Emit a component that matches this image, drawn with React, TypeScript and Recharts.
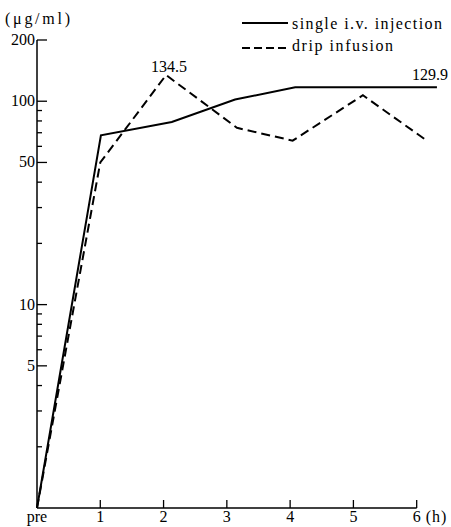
import { LineChart, Line, XAxis, YAxis, ReferenceLine, LabelList } from 'recharts';

// hours after dosing (0 = pre)
const ivTimes = [0, 1.01, 2.13, 3.13, 4.08, 6.32];
const ivLevels = [1, 68, 79, 102, 117, 117];
const dripTimes = [0, 1.0, 2.04, 3.16, 4.04, 5.15, 6.16];
const dripLevels = [1, 50, 134.5, 74, 64, 107, 64];

const hourTicks = [0, 1, 2, 3, 4, 5, 6];
const hourLabels = ['pre', '1', '2', '3', '4', '5', '6'];
const levelTicks = [2, 3, 4, 5, 6, 7, 8, 9, 10, 20, 30, 40, 50, 60, 70, 80, 90, 100, 200];
const levelLabels = [5, 10, 50, 100, 200];

const seriesNames = ['single i.v. injection', 'drip infusion'];
const notes = [
  { series: 1, index: 2, text: '134.5' },
  { series: 0, index: 5, text: '129.9' },
];

const ivData = ivTimes.map((t, i) => ({ t, v: ivLevels[i] }));
const dripData = dripTimes.map((t, i) => ({ t, v: dripLevels[i] }));

const FONT = '"Liberation Serif", "DejaVu Serif", serif';
const DASH = '9 5';

const XTick = ({ x, y, payload }: any) => {
  const i = hourTicks.indexOf(payload.value);
  return (
    <g>
      {i > 0 && <line x1={x} x2={x} y1={y - 8} y2={y} stroke="#000" strokeWidth={1.3} />}
      <text x={x} y={y + 14} textAnchor="middle" fontSize={16} fontFamily={FONT} fill="#000">
        {hourLabels[i]}
      </text>
      {i === hourTicks.length - 1 && (
        <text x={x + 9} y={y + 14} fontSize={16} fontFamily={FONT} fill="#000" letterSpacing={1}>
          (h)
        </text>
      )}
    </g>
  );
};

const YTick = ({ x, y, payload }: any) => {
  const major = levelLabels.includes(payload.value);
  return (
    <g>
      <line x1={x} x2={x + (major ? 10 : 5)} y1={y} y2={y} stroke="#000" strokeWidth={1.3} />
      {major && (
        <text x={x - 2} y={y + 5} textAnchor="end" fontSize={16} fontFamily={FONT} fill="#000">
          {payload.value}
        </text>
      )}
    </g>
  );
};

const noteLabel = (series: number) => (props: any) => {
  const note = notes.find((n) => n.series === series && n.index === props.index);
  if (!note) return null;
  const last = series === 0;
  return (
    <text
      x={last ? props.x + 11 : props.x + 3}
      y={last ? props.y - 7 : props.y - 3}
      textAnchor={last ? 'end' : 'middle'}
      fontSize={16}
      fontFamily={FONT}
      fill="#000"
    >
      {note.text}
    </text>
  );
};

export default function App() {
  return (
    <div style={{ position: 'absolute', left: 0, top: 0, width: 451, height: 527, background: '#fff' }}>
      <LineChart width={451} height={527} margin={{ top: 40, right: 9, left: 7, bottom: 0 }}>
        <XAxis
          type="number"
          dataKey="t"
          domain={[0, 6.4]}
          ticks={hourTicks}
          tick={<XTick />}
          tickLine={false}
          tickSize={0}
          tickMargin={0}
          axisLine={false}
          height={19}
          interval={0}
        />
        <YAxis
          type="number"
          dataKey="v"
          scale="log"
          domain={[1, 200]}
          allowDataOverflow
          ticks={levelTicks}
          tick={<YTick />}
          tickLine={false}
          tickSize={0}
          tickMargin={0}
          interval={0}
          width={30}
          axisLine={{ stroke: '#000', strokeWidth: 1.5 }}
        />
        <ReferenceLine
          segment={[{ x: 0, y: 1 }, { x: 6, y: 1 }]}
          stroke="#000"
          strokeWidth={1.5}
          ifOverflow="visible"
        />
        <Line
          data={ivData}
          dataKey="v"
          name={seriesNames[0]}
          stroke="#000"
          strokeWidth={2}
          dot={false}
          isAnimationActive={false}
        >
          <LabelList dataKey="v" content={noteLabel(0)} />
        </Line>
        <Line
          data={dripData}
          dataKey="v"
          name={seriesNames[1]}
          stroke="#000"
          strokeWidth={2}
          strokeDasharray={DASH}
          dot={false}
          isAnimationActive={false}
        >
          <LabelList dataKey="v" content={noteLabel(1)} />
        </Line>
      </LineChart>
      <svg
        width={451}
        height={527}
        style={{ position: 'absolute', left: 0, top: 0, pointerEvents: 'none' }}
      >
        <text x={5} y={24} fontSize={16} fontFamily={FONT} fill="#000" textLength={65} lengthAdjust="spacing">
          (μg/ml)
        </text>
        <line x1={242} x2={288} y1={23} y2={23} stroke="#000" strokeWidth={2} />
        <text x={292} y={29} fontSize={16} fontFamily={FONT} fill="#000" textLength={150} lengthAdjust="spacing">
          {seriesNames[0]}
        </text>
        <line x1={242} x2={288} y1={48} y2={48} stroke="#000" strokeWidth={2} strokeDasharray="8 4" />
        <text x={292} y={51} fontSize={16} fontFamily={FONT} fill="#000" textLength={101} lengthAdjust="spacing">
          {seriesNames[1]}
        </text>
      </svg>
    </div>
  );
}
